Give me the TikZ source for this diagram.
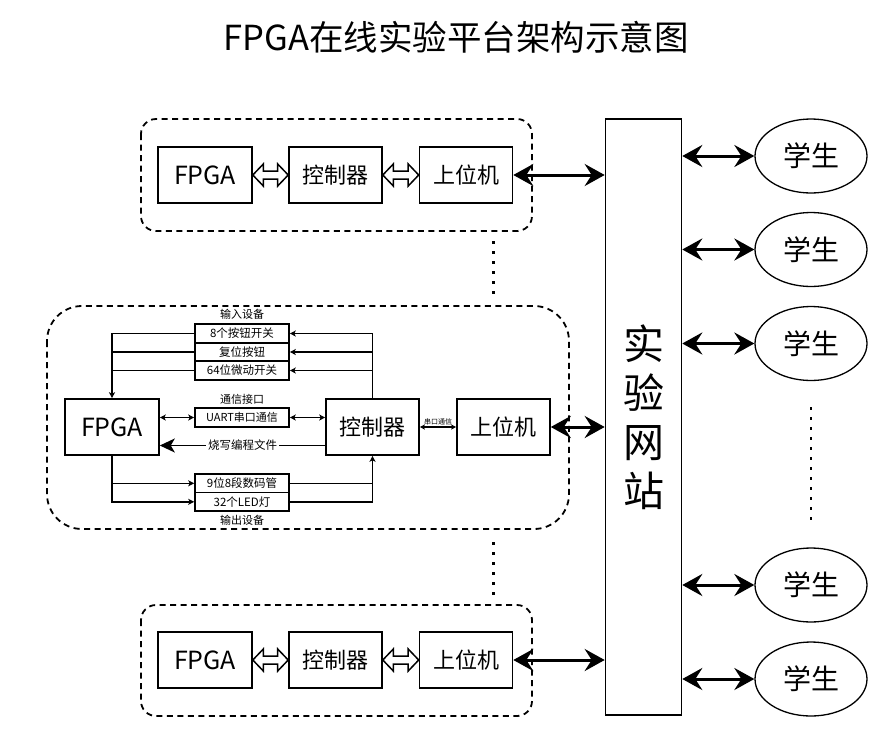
\documentclass[tikz,border=0pt]{standalone}
\usepackage{fontspec}
\setmainfont{Noto Sans CJK SC}
\usetikzlibrary{arrows.meta,calc,shapes.geometric}
\newcommand\fs[1]{\fontsize{#1}{#1}\selectfont}
\newcommand\hollowdbl[2]{%
  \draw[line width=1.5pt, fill=white, line join=miter] (#1.east) -- ++(10.5,-11) -- ++(0,7)
    -- ($(#2.west)+(-10.5,-4)$) -- ++(0,-7) -- (#2.west) -- ++(-10.5,11) -- ++(0,-7)
    -- ($(#1.east)+(10.5,4)$) -- ++(0,7) -- cycle;}
\tikzset{
  bigbox/.style={draw, line width=1.6pt, minimum width=93pt, minimum height=56pt, inner sep=0pt, font=\fs{22}},
  rowbox/.style={draw, line width=1.6pt, minimum width=94pt, minimum height=18.5pt, inner sep=0pt, font=\fs{11.5}},
  lbl/.style={inner sep=1pt, font=\fs{11}},
  grp/.style={line width=1.8pt, dash pattern=on 6pt off 4.5pt},
  thinc/.style={line width=1.5pt},
  smalltip/.style={thinc, -{Stealth[length=6pt,width=6pt,inset=1.5pt]}},
  smalldbl/.style={thinc, {Stealth[length=6pt,width=6pt,inset=1.5pt]}-{Stealth[length=6pt,width=6pt,inset=1.5pt]}},
  bigdbl/.style={line width=3pt, {Stealth[length=20pt,width=22pt,inset=7pt]}-{Stealth[length=20pt,width=22pt,inset=7pt]}},
  student/.style={ellipse, draw, line width=1.3pt, minimum width=112pt, minimum height=74pt, inner sep=0pt, font=\fs{28}},
  dotcol/.style={line width=3pt, dash pattern=on 3pt off 7pt},
}
\begin{document}
\begin{tikzpicture}[x=1pt,y=-1pt]
\useasboundingbox (0,0) rectangle (887,745);
\node[font=\fs{34.5}] (title) at (456,37) {FPGA在线实验平台架构示意图};

% website
\node[draw, line width=1.6pt, minimum width=76pt, minimum height=596pt, inner sep=0pt,
      align=center, font=\fontsize{41}{49}\selectfont] (site) at (643.5,417) {实\\验\\网\\站};

% top group
\draw[grp, rounded corners=15pt] (141,119) rectangle (532,231);
\node[bigbox, minimum width=94pt, font=\fs{25}] (tF) at (205,175) {FPGA};
\node[bigbox] (tC) at (335.5,175) {控制器};
\node[bigbox] (tH) at (466,175) {上位机};
\hollowdbl{tF}{tC}
\hollowdbl{tC}{tH}
\draw[bigdbl] (tH.east) -- (tH.east -| site.west);

% bottom group
\draw[grp, rounded corners=15pt] (141,605) rectangle (532,716);
\node[bigbox, minimum width=94pt, font=\fs{25}] (bF) at (205,660) {FPGA};
\node[bigbox] (bC) at (335.5,660) {控制器};
\node[bigbox] (bH) at (466,660) {上位机};
\hollowdbl{bF}{bC}
\hollowdbl{bC}{bH}
\draw[bigdbl] (bH.east) -- (bH.east -| site.west);

% dots between groups
\draw[dotcol] (493,241) -- (493,294);
\draw[dotcol] (493,542) -- (493,595);

% middle group
\draw[grp, rounded corners=35pt] (47,306) rectangle (569,529);
\node[bigbox, minimum width=94pt, font=\fs{25}] (mF) at (112,427) {FPGA};
\node[bigbox] (mC) at (372.5,427) {控制器};
\node[bigbox] (mH) at (503.5,427) {上位机};

\node[rowbox] (in1) at (242,333.5) {8个按钮开关};
\node[rowbox] (in2) at (242,352) {复位按钮};
\node[rowbox] (in3) at (242,370.5) {64位微动开关};
\node[lbl] (inl) at (242,314) {输入设备};

\node[rowbox, minimum height=19pt, font=\fs{11}] (uart) at (242,417.5) {UART串口通信};
\node[lbl] (uartl) at (242,399) {通信接口};

\node[rowbox] (out1) at (242,483.3) {9位8段数码管};
\node[rowbox] (out2) at (242,501.8) {32个LED灯};
\node[lbl] (outl) at (242,520) {输出设备};

% inputs -> FPGA
\draw[smalltip] (in1.west) -| (mF.north);
\draw[thinc] (in2.west) -- (in2.west -| mF.north);
\draw[thinc] (in3.west) -- (in3.west -| mF.north);
% controller -> inputs
\draw[smalltip] (mC.north) |- (in1.east);
\draw[smalltip] (in2.east -| mC.north) -- (in2.east);
\draw[smalltip] (in3.east -| mC.north) -- (in3.east);
% uart
\draw[smalldbl] (mF.east |- uart.west) -- (uart.west);
\draw[smalldbl] (uart.east) -- (uart.east -| mC.west);
% programming file
\coordinate (pg) at (242,445.5);
\draw[thinc, -{Stealth[length=15pt,width=14pt,inset=4pt]}] (pg -| mC.west) -- (pg -| mF.east)
  node[midway, fill=white, inner sep=2pt, font=\fs{11.5}] (pgl) {烧写编程文件};
% FPGA -> outputs
\draw[smalltip] (mF.south) |- (out2.west);
\draw[smalltip] (out1.west -| mF.south) -- (out1.west);
% outputs -> controller
\draw[smalltip] (out2.east) -| (mC.south);
\draw[thinc] (out1.east) -- (out1.east -| mC.south);
% controller <-> host
\draw[line width=1.2pt, {Stealth[length=5pt,width=5pt,inset=1pt]}-{Stealth[length=5pt,width=5pt,inset=1pt]}] (mC.east) -- (mH.west)
  node[midway, above, inner sep=1.5pt, font=\fs{7}] (sl) {串口通信};
\draw[bigdbl] (mH.east) -- (mH.east -| site.west);

% students
\node[student] (s1) at (811,156) {学生};
\node[student] (s2) at (811,249.5) {学生};
\node[student] (s3) at (811,343.5) {学生};
\node[student] (s4) at (811,585) {学生};
\node[student] (s5) at (811,679) {学生};
\foreach \s in {s1,s2,s3,s4,s5}
  \draw[bigdbl] (\s.west -| site.east) -- (\s.west);
\draw[line width=2.5pt, dash pattern=on 2.5pt off 7.5pt] (811,407) -- (811,520);
\end{tikzpicture}
\end{document}
